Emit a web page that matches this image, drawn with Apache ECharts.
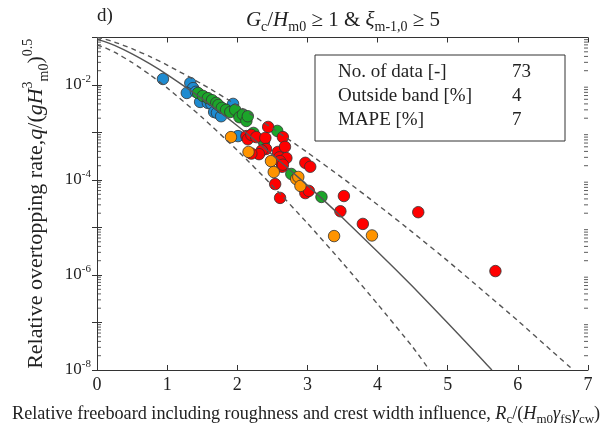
<!DOCTYPE html>
<html>
<head>
<meta charset="utf-8">
<script src="https://cdn.jsdelivr.net/npm/echarts@6/dist/echarts.min.js"></script>
<style>
html, body { margin: 0; padding: 0; background: #fff; }
#main { width: 607px; height: 440px; }
</style>
</head>
<body>
<div id="main"></div>
<script>
// measured points [Rc/(Hm0 gf gcw), q/sqrt(gHm0^3)]
var blueData = [[0.94,1.34e-2],[1.33,1.10e-2],[1.37,8.6e-3],[1.28,6.8e-3],[1.41,7.2e-3],[1.47,4.4e-3],[1.58,4.2e-3],[1.63,4.0e-3],[1.67,2.7e-3],[1.71,2.6e-3],[1.77,2.2e-3],[1.85,3.0e-3],[1.94,4.0e-3],[2.01,8.4e-4]];
var greenData = [[1.44,6.8e-3],[1.51,5.9e-3],[1.58,5.3e-3],[1.64,4.8e-3],[1.70,4.2e-3],[1.73,3.8e-3],[1.78,3.3e-3],[1.84,3.0e-3],[1.90,2.7e-3],[1.97,3.0e-3],[2.03,2.1e-3],[2.08,2.4e-3],[2.13,1.75e-3],[2.15,2.2e-3],[2.23,9.8e-4],[2.38,6.3e-4],[2.57,1.08e-3],[2.77,1.34e-4],[3.20,4.4e-5]];
var redData = [[2.13,8.4e-4],[2.15,7.2e-4],[2.20,8.9e-4],[2.27,8.0e-4],[2.40,7.7e-4],[2.44,1.31e-3],[2.65,8.0e-4],[2.41,4.5e-4],[2.35,4.2e-4],[2.31,3.5e-4],[2.20,3.6e-4],[2.58,3.9e-4],[2.68,5.0e-4],[2.60,3.0e-4],[2.70,2.9e-4],[2.61,2.5e-4],[2.64,1.9e-4],[2.65,2.1e-4],[2.97,2.3e-4],[3.04,1.9e-4],[2.54,8.2e-5],[2.61,4.2e-5],[2.97,5.3e-5],[3.02,5.9e-5],[3.52,4.6e-5],[3.47,2.2e-5],[3.79,1.19e-5],[4.58,2.1e-5],[5.68,1.21e-6]];
var orangeData = [[1.91,8.0e-4],[2.16,3.9e-4],[2.48,2.5e-4],[2.52,1.47e-4],[2.84,1.05e-4],[2.87,1.16e-4],[2.90,7.5e-5],[3.38,6.6e-6],[3.92,6.8e-6]];

// curves
var meanCurve = [[0,0.09],[0.1,0.0827],[0.25,0.0681],[0.5,0.0452],[0.75,0.0281],[1,0.01654],[1.5,5.1e-3],[2,1.39e-3],[2.5,3.41e-4],[3,7.7e-5],[3.5,1.6e-5],[4,3.1e-6],[4.5,5.7e-7],[5,9.8e-8],[5.5,1.6e-8],[5.63,1.0e-8]];
var upperBand = [[0,0.1],[0.1,0.0935],[0.25,0.0802],[0.5,0.0581],[0.75,0.0399],[1,0.0263],[1.5,0.0104],[2,3.72e-3],[2.5,1.23e-3],[3,3.79e-4],[3.5,1.10e-4],[4,3.02e-5],[4.5,7.9e-6],[5,1.98e-6],[5.5,4.7e-7],[6,1.09e-7],[6.5,2.4e-8],[6.79,1.0e-8]];
var lowerBand = [[0,0.069],[0.1,0.0622],[0.25,0.049],[0.5,0.0298],[0.75,0.0166],[1,8.71e-3],[1.5,2.07e-3],[2,4.22e-4],[2.5,7.6e-5],[3,1.23e-5],[3.5,1.81e-6],[4,2.44e-7],[4.5,3.05e-8],[4.74,1.0e-8]];

var statLabels = ['No. of data [-]', 'Outside band [%]', 'MAPE [%]'];
var statValues = ['73', '4', '7'];

var serif = 'Liberation Serif';
var ink = '#222';
var axisCol = '#333';

// log minor ticks (2..9 in each decade), on both side axes
var minorLeft = [], minorRight = [];
for (var d = -8; d < -1; d++) {
    for (var k = 2; k <= 9; k++) {
        minorLeft.push([0, k * Math.pow(10, d)]);
        minorRight.push([7, k * Math.pow(10, d)]);
    }
}

var myChart = echarts.init(document.getElementById('main'));

function scatterSeries(data, color) {
    return {
        type: 'scatter',
        data: data,
        symbolSize: 11.5,
        z: 2,
        itemStyle: { color: color, borderColor: '#333', borderWidth: 0.8, opacity: 1 }
    };
}

function lineSeries(data, dashed) {
    return {
        type: 'line',
        data: data,
        showSymbol: false,
        smooth: 0.2,
        z: 3,
        silent: true,
        lineStyle: { color: '#555', width: 1.4, type: dashed ? [5, 4] : 'solid' }
    };
}

function minorTickSeries(data, dx) {
    return {
        type: 'scatter',
        data: data,
        symbol: 'rect',
        symbolSize: [4, 1],
        symbolOffset: [dx, 0],
        clip: false,
        silent: true,
        z: 4,
        itemStyle: { color: axisCol }
    };
}

var expRich = {
    b: { fontFamily: serif, fontSize: 17, color: ink, lineHeight: 22 },
    s: { fontFamily: serif, fontSize: 11, color: ink, lineHeight: 11, verticalAlign: 'top' }
};

var option = {
    animation: false,
    grid: { left: 97, right: 19, top: 37.5, bottom: 70 },
    xAxis: [
        {
            type: 'value', min: 0, max: 7, interval: 1, position: 'bottom',
            axisLine: { lineStyle: { color: axisCol, width: 1 } },
            axisTick: { inside: true, length: 5, lineStyle: { color: axisCol } },
            axisLabel: { fontFamily: serif, fontSize: 18, color: ink, margin: 6 },
            splitLine: { show: false }
        },
        {
            type: 'value', min: 0, max: 7, interval: 1, position: 'top',
            axisLine: { lineStyle: { color: axisCol, width: 1 } },
            axisTick: { inside: true, length: 5, lineStyle: { color: axisCol } },
            axisLabel: { show: false },
            splitLine: { show: false }
        }
    ],
    yAxis: [
        {
            type: 'log', logBase: 10, min: 1e-8, max: 1e-1, interval: 1,
            axisLine: { show: true, lineStyle: { color: axisCol, width: 1 } },
            axisTick: { show: true, inside: true, length: 5, lineStyle: { color: axisCol } },
            axisLabel: {
                margin: 6,
                formatter: function (v) {
                    var e = Math.round(Math.log10(v));
                    if (e % 2 !== 0) return '';
                    return '{b|10}{s|' + e + '}';
                },
                rich: expRich
            },
            splitLine: { show: false },
            name: '{n|Relative overtopping rate,}{i|q}{n|/(}{i|gH}{sup|3}{sub|m0}{n|)}{sup|0.5}',
            nameLocation: 'middle',
            nameRotate: 90,
            nameGap: 46,
            nameTextStyle: {
                rich: {
                    n: { fontFamily: serif, fontSize: 22, color: ink, lineHeight: 30 },
                    i: { fontFamily: serif, fontSize: 22, color: ink, fontStyle: 'italic', lineHeight: 30 },
                    sup: { fontFamily: serif, fontSize: 14, color: ink, lineHeight: 14, verticalAlign: 'top' },
                    sub: { fontFamily: serif, fontSize: 14, color: ink, lineHeight: 14, verticalAlign: 'bottom' }
                }
            }
        },
        {
            type: 'log', logBase: 10, min: 1e-8, max: 1e-1, interval: 1, position: 'right',
            axisLine: { show: true, lineStyle: { color: axisCol, width: 1 } },
            axisTick: { show: true, inside: true, length: 5, lineStyle: { color: axisCol } },
            axisLabel: { show: false },
            splitLine: { show: false }
        }
    ],
    graphic: [
        { type: 'text', left: 97, top: 7, style: { text: 'd)', font: '19px "Liberation Serif"', fill: ink } },
        {
            type: 'text', x: 343, y: 20,
            style: {
                text: '{i|G}{sub|c}{n|/}{i|H}{sub|m0}{n| ≥ 1 & }{i|ξ}{sub|m-1,0}{n| ≥ 5}',
                align: 'center', verticalAlign: 'middle',
                rich: {
                    n: { fontFamily: serif, fontSize: 21, fill: ink, lineHeight: 28 },
                    i: { fontFamily: serif, fontSize: 21, fill: ink, fontStyle: 'italic', lineHeight: 28 },
                    sub: { fontFamily: serif, fontSize: 14, fill: ink, lineHeight: 14, verticalAlign: 'bottom' }
                }
            }
        },
        {
            type: 'text', x: 12, y: 414,
            style: {
                text: '{n|Relative freeboard including roughness and crest width influence, }{i|R}{sub|c}{n|/(}{i|H}{sub|m0}{i|γ}{sub|fS}{i|γ}{sub|cw}{n|)}',
                align: 'left', verticalAlign: 'middle',
                rich: {
                    n: { fontFamily: serif, fontSize: 18.2, fill: ink, lineHeight: 24 },
                    i: { fontFamily: serif, fontSize: 18.2, fill: ink, fontStyle: 'italic', lineHeight: 24 },
                    sub: { fontFamily: serif, fontSize: 13, fill: ink, lineHeight: 13, verticalAlign: 'bottom' }
                }
            }
        },
        {
            type: 'rect', z: 10,
            shape: { x: 315, y: 55, width: 250, height: 86 },
            style: { fill: '#fff', stroke: '#333', lineWidth: 1 }
        },
        { type: 'text', z: 11, x: 338, y: 72, style: { text: statLabels[0], font: '19px "Liberation Serif"', fill: ink, verticalAlign: 'middle' } },
        { type: 'text', z: 11, x: 338, y: 96, style: { text: statLabels[1], font: '19px "Liberation Serif"', fill: ink, verticalAlign: 'middle' } },
        { type: 'text', z: 11, x: 338, y: 120, style: { text: statLabels[2], font: '19px "Liberation Serif"', fill: ink, verticalAlign: 'middle' } },
        { type: 'text', z: 11, x: 512, y: 72, style: { text: statValues[0], font: '19px "Liberation Serif"', fill: ink, verticalAlign: 'middle' } },
        { type: 'text', z: 11, x: 512, y: 96, style: { text: statValues[1], font: '19px "Liberation Serif"', fill: ink, verticalAlign: 'middle' } },
        { type: 'text', z: 11, x: 512, y: 120, style: { text: statValues[2], font: '19px "Liberation Serif"', fill: ink, verticalAlign: 'middle' } }
    ],
    series: [
        scatterSeries(blueData, '#1f8bd0'),
        scatterSeries(greenData, '#1ca52a'),
        scatterSeries(redData, '#ff0000'),
        scatterSeries(orangeData, '#ff9400'),
        lineSeries(meanCurve, false),
        lineSeries(upperBand, true),
        lineSeries(lowerBand, true),
        minorTickSeries(minorLeft, 2),
        minorTickSeries(minorRight, -2)
    ]
};

myChart.setOption(option);
</script>
</body>
</html>
